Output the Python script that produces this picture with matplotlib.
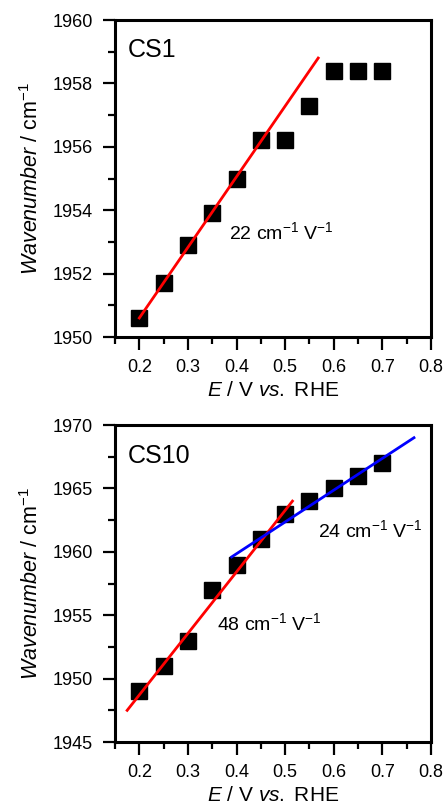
import matplotlib
matplotlib.use("Agg")
import matplotlib.pyplot as plt
from matplotlib.ticker import MultipleLocator

# ───── Data ─────
potential = [0.2, 0.25, 0.3, 0.35, 0.4, 0.45, 0.5, 0.55, 0.6, 0.65, 0.7]

cs1_wavenumber = [1950.6, 1951.7, 1952.9, 1953.9, 1955.0, 1956.2, 1956.2,
                  1957.3, 1958.4, 1958.4, 1958.4]
cs1_fit_x = [0.2, 0.568]
cs1_fit_y = [1950.6, 1958.8]

cs10_wavenumber = [1949.0, 1951.0, 1953.0, 1957.0, 1959.0, 1961.0, 1963.0,
                   1964.0, 1965.0, 1966.0, 1967.0]
cs10_fit1_x = [0.175, 0.515]
cs10_fit1_y = [1947.5, 1964.0]
cs10_fit2_x = [0.39, 0.765]
cs10_fit2_y = [1959.6, 1969.0]

plt.rcParams['font.family'] = 'Liberation Sans'
plt.rcParams['mathtext.fontset'] = 'custom'
plt.rcParams['mathtext.rm'] = 'Liberation Sans'
plt.rcParams['mathtext.it'] = 'Liberation Sans:italic'

fig = plt.figure(figsize=(4.43, 8.07), dpi=100)
ax1 = fig.add_axes([0.2596, 0.5824, 0.7133, 0.3928])
ax2 = fig.add_axes([0.2596, 0.0805, 0.7133, 0.3928])


def style_axis(ax, ylim, ymajor, yminor):
    ax.set_xlim(0.15, 0.8)
    ax.set_ylim(*ylim)
    ax.xaxis.set_major_locator(MultipleLocator(0.1))
    ax.xaxis.set_minor_locator(MultipleLocator(0.05))
    ax.yaxis.set_major_locator(MultipleLocator(ymajor))
    ax.yaxis.set_minor_locator(MultipleLocator(yminor))
    ax.xaxis.set_major_formatter(plt.FuncFormatter(lambda v, p: f"{v:.1f}"))
    ax.tick_params(which='both', direction='out', width=1.6, labelsize=13,
                   top=False, right=False, pad=7)
    ax.tick_params(which='major', length=9)
    ax.tick_params(which='minor', length=5)
    for s in ax.spines.values():
        s.set_linewidth(2.2)
    ax.set_xlabel(r"$\it{E}$ / V $\it{vs.}$ RHE", fontsize=15)
    ax.set_ylabel(r"$\it{Wavenumber}$ / cm$^{-1}$", fontsize=15.5)
    ax.xaxis.set_label_coords(0.5, -0.14)
    ax.yaxis.set_label_coords(-0.228, 0.5)


# ───── CS1 ─────
ax1.plot(potential, cs1_wavenumber, 's', color='black', ms=11, zorder=2)
ax1.plot(cs1_fit_x, cs1_fit_y, color='red', lw=2, zorder=3)
style_axis(ax1, (1950, 1960), 2, 1)
ax1.text(0.177, 1958.83, "CS1", fontsize=18, va='baseline')
ax1.text(0.3845, 1953.09, r"22 cm$^{-1}$ V$^{-1}$", fontsize=14, va='baseline')

# ───── CS10 ─────
ax2.plot(potential, cs10_wavenumber, 's', color='black', ms=11, zorder=2)
ax2.plot(cs10_fit1_x, cs10_fit1_y, color='red', lw=2, zorder=3)
ax2.plot(cs10_fit2_x, cs10_fit2_y, color='blue', lw=2, zorder=3)
style_axis(ax2, (1945, 1970), 5, 2.5)
ax2.text(0.177, 1967.0, "CS10", fontsize=18, va='baseline')
ax2.text(0.36, 1953.83, r"48 cm$^{-1}$ V$^{-1}$", fontsize=14, va='baseline')
ax2.text(0.5676, 1961.17, r"24 cm$^{-1}$ V$^{-1}$", fontsize=14, va='baseline')

fig.savefig("out.png", dpi=100)
